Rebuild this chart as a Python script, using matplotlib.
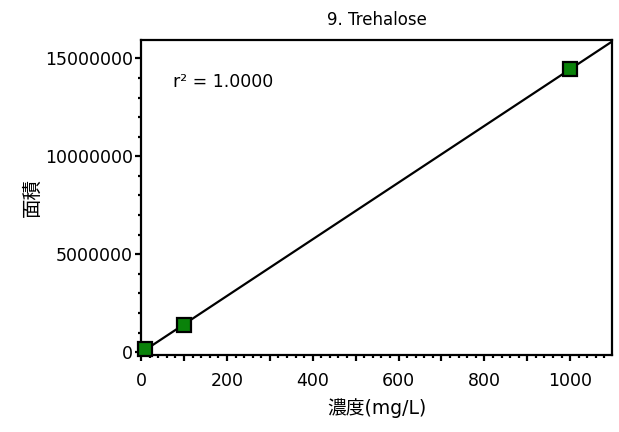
import numpy as np
import matplotlib
matplotlib.use('Agg')
import matplotlib.pyplot as plt
from matplotlib.ticker import MultipleLocator, FuncFormatter

plt.rcParams['font.family'] = ['DejaVu Sans', 'Noto Sans CJK JP']

# calibration points (concentration, peak area)
conc = [10, 100, 1000]
area = [140000, 1400000, 14450000]
title = '9. Trehalose'
r2_text = 'r² = 1.0000'

fig = plt.figure(figsize=(6.19, 4.32), dpi=100)
ax = fig.add_axes([0.228, 0.178, 0.761, 0.729])

# least squares line
slope, icpt = np.polyfit(conc, area, 1)
xmax = 1098
xs = np.array([0, xmax])
ax.plot(xs, slope * xs + icpt, color='black', lw=1.6, zorder=2)
ax.plot(conc, area, 's', ms=10, mfc='#0a820a', mec='black', mew=1.6, zorder=3, clip_on=False)

ax.set_xlim(0, xmax)
ax.set_ylim(-150000, 15930000)

ax.xaxis.set_major_locator(MultipleLocator(100))
ax.xaxis.set_minor_locator(MultipleLocator(20))
ax.xaxis.set_major_formatter(FuncFormatter(lambda v, p: '%d' % v if int(round(v)) % 200 == 0 else ''))
ax.yaxis.set_major_locator(MultipleLocator(5000000))
ax.yaxis.set_minor_locator(MultipleLocator(1000000))
ax.yaxis.set_major_formatter(FuncFormatter(lambda v, p: '%d' % v))

ax.tick_params(which='major', direction='out', length=4, width=1.6, labelsize=12.5)
ax.tick_params(which='minor', direction='out', length=2.5, width=1.6)
ax.tick_params(axis='x', which='major', pad=8)
ax.tick_params(axis='y', which='major', pad=2)
for s in ax.spines.values():
    s.set_linewidth(1.6)

ax.set_title(title, fontsize=12, pad=11)
ax.set_xlabel('濃度(mg/L)', fontsize=13.5, labelpad=6)
ax.set_ylabel('面積', fontsize=14, labelpad=2)
ax.text(0.068, 0.866, r2_text, transform=ax.transAxes, fontsize=12.5, va='center', ha='left')

fig.savefig('out.png', dpi=100)
